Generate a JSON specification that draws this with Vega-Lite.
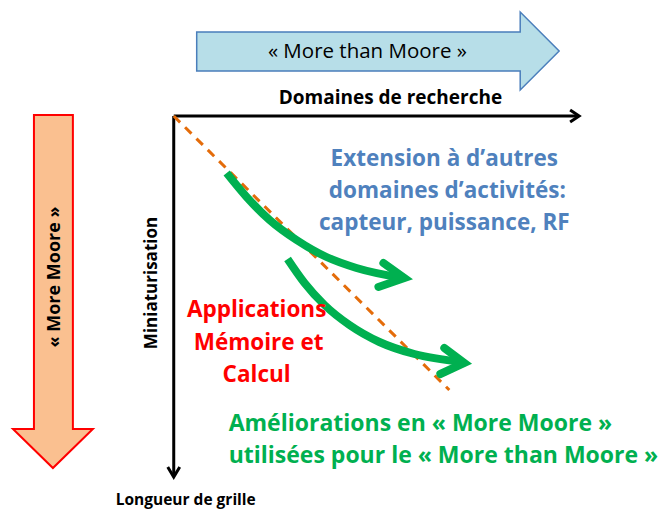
{
  "$schema": "https://vega.github.io/schema/vega-lite/v6.json",
  "width": 658,
  "height": 511,
  "autosize": {"type": "fit", "contains": "padding"},
  "padding": 0,
  "background": "white",
  "config": {"view": {"stroke": null}},
  "datasets": {
    "blueArrow": [
      {"x": 197, "y": 32, "y2": 71},
      {"x": 521, "y": 32, "y2": 71},
      {"x": 521.01, "y": 12, "y2": 90},
      {"x": 560, "y": 51, "y2": 51}
    ],
    "orangeArrow": [
      {"y": 115, "x": 34, "x2": 73},
      {"y": 429, "x": 34, "x2": 73},
      {"y": 429.01, "x": 13, "x2": 93},
      {"y": 468, "x": 53, "x2": 53}
    ],
    "axes": [
      {"id": "h", "o": 1, "x": 174, "y": 116},
      {"id": "h", "o": 2, "x": 578, "y": 116},
      {"id": "v", "o": 1, "x": 174, "y": 116},
      {"id": "v", "o": 2, "x": 174, "y": 475},
      {"id": "hh", "o": 1, "x": 571, "y": 110},
      {"id": "hh", "o": 2, "x": 580, "y": 116},
      {"id": "hh", "o": 3, "x": 571, "y": 122},
      {"id": "vh", "o": 1, "x": 168, "y": 467},
      {"id": "vh", "o": 2, "x": 174, "y": 477},
      {"id": "vh", "o": 3, "x": 180, "y": 467}
    ],
    "dash": [
      {"x": 174, "y": 116},
      {"x": 450, "y": 390}
    ],
    "curves": [
      {"id": "c1", "o": 1, "x": 227, "y": 173},
      {"id": "c1", "o": 2, "x": 247, "y": 197},
      {"id": "c1", "o": 3, "x": 270, "y": 220},
      {"id": "c1", "o": 4, "x": 297, "y": 240},
      {"id": "c1", "o": 5, "x": 327, "y": 257},
      {"id": "c1", "o": 6, "x": 357, "y": 268},
      {"id": "c1", "o": 7, "x": 403, "y": 278},
      {"id": "c2", "o": 1, "x": 288, "y": 259},
      {"id": "c2", "o": 2, "x": 305, "y": 283},
      {"id": "c2", "o": 3, "x": 325, "y": 305},
      {"id": "c2", "o": 4, "x": 350, "y": 325},
      {"id": "c2", "o": 5, "x": 380, "y": 342},
      {"id": "c2", "o": 6, "x": 415, "y": 354},
      {"id": "c2", "o": 7, "x": 463, "y": 362}
    ],
    "heads": [
      {"id": "a1", "o": 1, "x": 384, "y": 263},
      {"id": "a1", "o": 2, "x": 405, "y": 278},
      {"id": "a1", "o": 3, "x": 379, "y": 287},
      {"id": "a2", "o": 1, "x": 445, "y": 348},
      {"id": "a2", "o": 2, "x": 465, "y": 363},
      {"id": "a2", "o": 3, "x": 441, "y": 374}
    ],
    "blueText": [
      {"t": "Extension à d’autres", "x": 445, "y": 166},
      {"t": "domaines d’activités:", "x": 448, "y": 198},
      {"t": "capteur, puissance, RF", "x": 445, "y": 230}
    ],
    "redText": [
      {"t": "Applications", "x": 257, "y": 317},
      {"t": "Mémoire et", "x": 259, "y": 350},
      {"t": "Calcul", "x": 257, "y": 382}
    ],
    "greenText": [
      {"t": "Améliorations en « More Moore »", "x": 229, "y": 431},
      {"t": "utilisées pour le « More than Moore »", "x": 229, "y": 463}
    ],
    "blackText": [
      {"t": "Domaines de recherche", "x": 391, "y": 104}
    ],
    "blackSmall": [
      {"t": "Longueur de grille", "x": 186, "y": 505}
    ],
    "vertLabel": [
      {"t": "Miniaturisation", "x": 152, "y": 283}
    ],
    "moreMoore": [
      {"t": "« More Moore »", "x": 55, "y": 277}
    ],
    "moreThan": [
      {"t": "« More than Moore »", "x": 368, "y": 58}
    ]
  },
  "encoding": {
    "x": {"field": "x", "type": "quantitative", "scale": {"domain": [0, 658], "nice": false, "zero": false}, "axis": null},
    "y": {"field": "y", "type": "quantitative", "scale": {"domain": [0, 511], "nice": false, "zero": false, "reverse": true}, "axis": null}
  },
  "layer": [
    {
      "data": {"name": "blueArrow"},
      "mark": {"type": "area", "orient": "vertical", "fill": "#B7DEE8", "stroke": "#4A7EBB", "strokeWidth": 1.5, "fillOpacity": 1},
      "encoding": {"y2": {"field": "y2"}}
    },
    {
      "data": {"name": "orangeArrow"},
      "mark": {"type": "area", "orient": "horizontal", "fill": "#FAC090", "stroke": "#FF0000", "strokeWidth": 2, "fillOpacity": 1},
      "encoding": {"x2": {"field": "x2"}}
    },
    {
      "data": {"name": "axes"},
      "mark": {"type": "line", "color": "black", "strokeWidth": 3, "strokeJoin": "miter"},
      "encoding": {"detail": {"field": "id"}, "order": {"field": "o", "type": "quantitative"}}
    },
    {
      "data": {"name": "dash"},
      "mark": {"type": "line", "color": "#E46C0A", "strokeWidth": 3, "strokeDash": [9, 7]},
      "encoding": {}
    },
    {
      "data": {"name": "curves"},
      "mark": {"type": "line", "color": "#00B050", "strokeWidth": 8, "interpolate": "monotone"},
      "encoding": {"detail": {"field": "id"}, "order": {"field": "o", "type": "quantitative"}}
    },
    {
      "data": {"name": "heads"},
      "mark": {"type": "line", "color": "#00B050", "strokeWidth": 8, "strokeJoin": "miter", "strokeCap": "round"},
      "encoding": {"detail": {"field": "id"}, "order": {"field": "o", "type": "quantitative"}}
    },
    {
      "data": {"name": "blueText"},
      "mark": {"type": "text", "font": "Open Sans", "fontWeight": "bold", "fontSize": 22.5, "color": "#4F81BD", "align": "center", "baseline": "alphabetic"},
      "encoding": {"text": {"field": "t"}}
    },
    {
      "data": {"name": "redText"},
      "mark": {"type": "text", "font": "Open Sans", "fontWeight": "bold", "fontSize": 22.5, "color": "#FF0000", "align": "center", "baseline": "alphabetic"},
      "encoding": {"text": {"field": "t"}}
    },
    {
      "data": {"name": "greenText"},
      "mark": {"type": "text", "font": "Open Sans", "fontWeight": "bold", "fontSize": 23, "color": "#00B050", "align": "left", "baseline": "alphabetic"},
      "encoding": {"text": {"field": "t"}}
    },
    {
      "data": {"name": "blackText"},
      "mark": {"type": "text", "font": "Open Sans", "fontWeight": "bold", "fontSize": 19, "color": "black", "align": "center", "baseline": "alphabetic"},
      "encoding": {"text": {"field": "t"}}
    },
    {
      "data": {"name": "blackSmall"},
      "mark": {"type": "text", "font": "Open Sans", "fontWeight": "bold", "fontSize": 15.5, "color": "black", "align": "center", "baseline": "alphabetic"},
      "encoding": {"text": {"field": "t"}}
    },
    {
      "data": {"name": "vertLabel"},
      "mark": {"type": "text", "font": "Open Sans", "fontWeight": "bold", "fontSize": 17, "color": "black", "align": "center", "baseline": "middle", "angle": 270},
      "encoding": {"text": {"field": "t"}}
    },
    {
      "data": {"name": "moreMoore"},
      "mark": {"type": "text", "font": "Open Sans", "fontWeight": "bold", "fontSize": 18, "color": "black", "align": "center", "baseline": "middle", "angle": 270},
      "encoding": {"text": {"field": "t"}}
    },
    {
      "data": {"name": "moreThan"},
      "mark": {"type": "text", "font": "Open Sans", "fontWeight": "normal", "fontSize": 20.5, "color": "black", "align": "center", "baseline": "alphabetic"},
      "encoding": {"text": {"field": "t"}}
    }
  ]
}
